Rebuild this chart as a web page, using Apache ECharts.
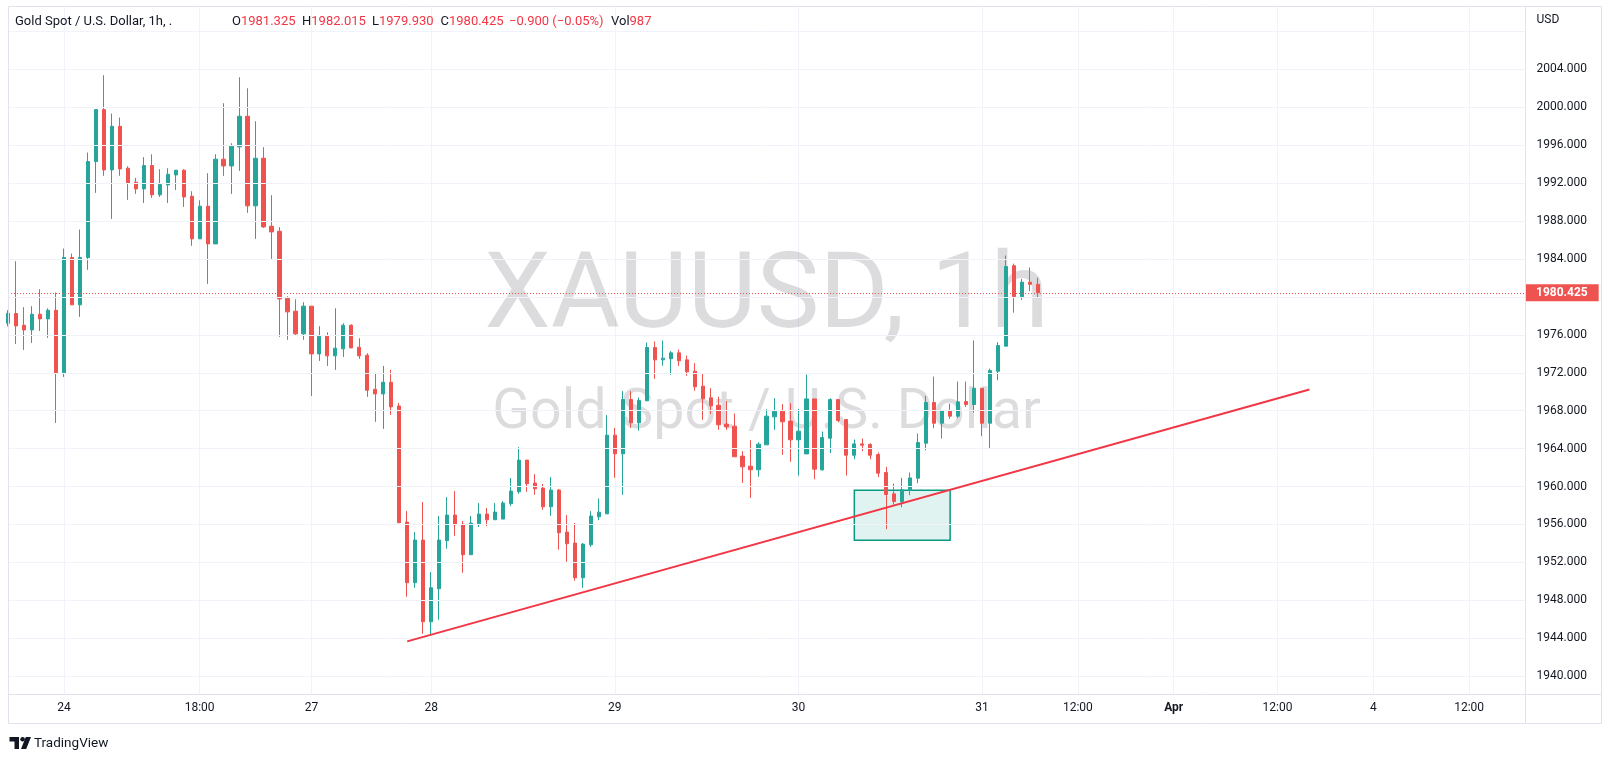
<!DOCTYPE html>
<html><head><meta charset="utf-8">
<script src="https://cdn.jsdelivr.net/npm/echarts@6/dist/echarts.min.js"></script>
<style>html,body{margin:0;padding:0;background:#fff}#c{width:1613px;height:763px}</style>
</head><body><div id="c"></div>
<script>
// ---- data (hourly candles, slot 0 = first, partly hidden candle) ----
const opens = [
1977.22,1978.24,1977.01,1976.52,1978.17,1977.68,1978.59,1971.99,1984.15,1979.16,
1984.15,1994.27,1999.75,1993.39,1997.99,1993.57,1992.09,1991.39,1993.85,1990.76,
1991.81,1992.86,1993.36,1990.61,1986.12,1989.56,1985.59,1994.52,1993.81,1995.82,
1999.05,1989.60,1994.62,1987.45,1986.92,1979.86,1978.49,1976.10,1979.02,1973.99,
1975.85,1973.78,1974.52,1977.01,1974.69,1973.85,1970.26,1969.77,1971.00,1968.49,
1956.25,1949.86,1954.36,1945.74,1949.22,1954.29,1956.99,1956.04,1952.81,1956.08,
1957.10,1956.50,1956.57,1958.19,1959.45,1962.79,1960.37,1959.84,1957.87,1959.63,
1955.20,1954.04,1950.38,1953.86,1956.81,1957.12,1965.42,1963.45,1969.18,1966.72,
1969.04,1974.66,1973.36,1973.47,1974.10,1973.36,1972.17,1970.59,1969.36,1968.58,
1966.58,1966.37,1963.21,1962.15,1961.77,1964.40,1967.35,1967.95,1966.90,1964.93,
1963.44,1969.24,1961.76,1965.10,1969.17,1967.07,1963.30,1964.50,1964.43,1963.37,
1961.48,1959.23,1958.42,1959.58,1960.88,1964.57,1968.86,1966.68,1968.01,1967.42,
1968.96,1968.65,1970.37,1966.68,1972.16,1974.80,1983.29,1980.02,1981.55,1981.325];
const closes = [
1978.27,1976.94,1976.52,1978.17,1977.68,1978.59,1971.99,1984.15,1979.16,1984.15,
1994.27,1999.75,1993.39,1997.99,1993.49,1992.02,1991.39,1993.85,1990.76,1991.85,
1992.93,1993.36,1990.54,1986.12,1989.56,1985.59,1994.52,1993.81,1995.89,1999.05,
1989.60,1994.62,1987.38,1986.85,1979.79,1978.42,1976.10,1979.02,1973.99,1975.85,
1973.78,1974.59,1977.01,1974.62,1973.78,1970.16,1969.77,1971.00,1968.40,1956.18,
1949.86,1954.36,1945.74,1949.33,1954.36,1956.99,1955.97,1952.81,1956.15,1957.10,
1956.50,1957.31,1958.26,1959.52,1962.79,1960.30,1959.77,1957.87,1959.63,1955.13,
1953.97,1950.38,1953.93,1956.89,1957.30,1965.42,1963.45,1969.18,1966.72,1969.08,
1974.66,1973.36,1973.54,1974.10,1973.26,1972.10,1970.52,1969.25,1968.51,1966.51,
1966.30,1963.14,1962.08,1961.77,1964.47,1967.42,1967.95,1966.83,1964.93,1965.84,
1969.24,1961.83,1965.17,1969.17,1966.96,1963.30,1964.50,1964.36,1963.30,1961.41,
1959.16,1958.42,1959.65,1960.91,1964.64,1968.86,1966.68,1968.01,1967.42,1968.93,
1968.65,1970.37,1966.68,1972.23,1974.87,1983.20,1980.02,1981.55,1981.325,1980.425];
const lows = [
1976.90,1975.04,1974.41,1975.15,1976.41,1975.68,1966.71,1971.56,1979.16,1977.89,
1982.85,1990.97,1992.76,1988.22,1992.76,1990.23,1990.86,1989.91,1990.44,1990.54,
1989.91,1991.28,1989.49,1985.38,1986.12,1981.37,1985.59,1992.76,1990.86,1993.29,
1988.86,1986.12,1987.28,1984.01,1975.78,1975.47,1975.99,1975.47,1969.56,1973.25,
1972.72,1972.30,1973.67,1974.62,1973.46,1969.46,1966.82,1966.08,1967.56,1956.18,
1948.38,1949.33,1944.48,1944.27,1945.95,1953.44,1954.81,1950.91,1952.81,1955.73,
1955.83,1956.50,1956.57,1957.96,1959.24,1959.45,1959.14,1957.55,1956.92,1953.34,
1952.07,1950.07,1949.33,1953.65,1956.46,1957.12,1960.92,1959.13,1966.19,1965.88,
1969.04,1971.36,1972.73,1971.78,1972.73,1971.68,1970.10,1967.04,1967.67,1965.98,
1965.98,1963.14,1960.39,1958.81,1961.03,1964.40,1965.98,1963.35,1962.61,1961.16,
1963.44,1960.77,1961.69,1963.52,1966.78,1961.16,1962.88,1963.73,1962.88,1960.98,
1955.50,1958.10,1957.82,1959.09,1960.35,1963.83,1966.15,1965.06,1967.14,1967.21,
1968.40,1967.80,1965.31,1964.04,1971.21,1974.80,1978.33,1979.70,1980.60,1979.93];
const highs = [
1978.60,1983.76,1978.91,1979.02,1980.81,1978.80,1980.46,1985.10,1984.57,1987.10,
1995.22,1999.75,2003.37,1999.33,1998.91,1993.78,1992.55,1994.73,1995.04,1993.46,
1993.57,1993.36,1993.46,1991.14,1990.19,1993.04,1995.04,2000.42,1996.20,2003.16,
2002.00,1998.52,1995.78,1990.72,1987.35,1980.07,1979.75,1979.44,1979.02,1976.91,
1976.27,1978.80,1977.22,1977.12,1975.64,1974.06,1971.99,1972.72,1972.30,1968.81,
1957.41,1955.20,1958.36,1950.98,1956.89,1958.89,1959.52,1956.36,1956.89,1958.26,
1957.73,1958.26,1958.47,1960.89,1964.16,1962.79,1961.31,1960.27,1961.00,1959.74,
1956.99,1956.15,1954.04,1957.41,1958.74,1967.53,1966.19,1970.06,1970.06,1969.39,
1975.19,1975.30,1975.40,1974.28,1974.45,1973.82,1973.01,1971.96,1970.38,1969.46,
1969.00,1967.70,1963.73,1964.89,1964.68,1968.16,1969.32,1968.69,1968.79,1968.19,
1971.81,1969.24,1965.80,1969.31,1969.17,1967.07,1964.96,1965.06,1964.57,1963.59,
1962.07,1960.32,1960.91,1961.48,1965.59,1969.56,1971.60,1968.01,1968.75,1971.07,
1971.07,1975.40,1970.37,1972.44,1975.22,1984.36,1983.51,1981.90,1983.10,1982.015];
const lastVolume = 987;

// time scale: total slots (incl. future space) and labelled slots
const slotCount = 191;
const xLabelSlots = [7, 24, 38, 53, 76, 99, 122, 134, 146, 159, 171, 183];
const xLabelTexts = ['24', '18:00', '27', '28', '29', '30', '31', '12:00', 'Apr', '12:00', '4', '12:00'];

// price scale
const priceTicks = [1940,1944,1948,1952,1956,1960,1964,1968,1972,1976,1980,1984,1988,1992,1996,2000,2004,2008];
const priceMin = 1938.124, priceMax = 2010.675;

// drawings
const trendSlots = [50, 163];
const trendPrices = [1943.67, 1970.23];
const zoneSlots = [106, 118];
const zonePrices = [1959.6, 1954.35];

// texts
const symbolTitle = 'Gold Spot / U.S. Dollar, 1h, .';
const watermarkTitle = 'XAUUSD, 1h';
const watermarkSub = 'Gold Spot / U.S. Dollar';
const currency = 'USD';

// ---- build ----
const UP = '#26a69a', DOWN = '#ef5350', TXT = '#131722', GRID = '#f0f3fa', BORDER = '#e0e3eb';
const FONT = 'Roboto, "Noto Sans", sans-serif';
const plot = {left: 8, right: 1525, top: 6, bottom: 694};
const frame = {left: 8, top: 6, right: 1601, bottom: 723};

const slots = Array.from({length: slotCount}, (_, i) => String(i));
const labelAt = {};
xLabelSlots.forEach((s, i) => { labelAt[s] = xLabelTexts[i]; });
const candles = opens.map((o, i) => [o, closes[i], lows[i], highs[i]]);
const trendData = slots.map(() => null);
trendSlots.forEach((s, i) => { trendData[s] = trendPrices[i]; });

const last = closes.length - 1;
const lastClose = closes[last];
const chg = lastClose - closes[last - 1];
const chgPct = chg / closes[last - 1] * 100;
const fmtSigned = (v, d) => (v < 0 ? '\u2212' : '+') + Math.abs(v).toFixed(d);
const valColor = chg < 0 ? '#f23645' : '#089981';

const header = [
  {x: 15, parts: [[symbolTitle, TXT]]},
  {x: 232, parts: [['O', TXT], [opens[last].toFixed(3), valColor]]},
  {x: 302, parts: [['H', TXT], [highs[last].toFixed(3), valColor]]},
  {x: 372, parts: [['L', TXT], [lows[last].toFixed(3), valColor]]},
  {x: 440.5, parts: [['C', TXT], [lastClose.toFixed(3), valColor]]},
  {x: 509, parts: [[fmtSigned(chg, 3) + ' (' + fmtSigned(chgPct, 2) + '%)', valColor]]},
  {x: 611, parts: [['Vol', TXT], [String(lastVolume), valColor]]}
];
const headerGraphics = header.map(h => {
  const rich = {};
  let text = '';
  h.parts.forEach((p, i) => {
    rich['p' + i] = {fill: p[1], fontSize: 13, fontFamily: FONT};
    text += '{p' + i + '|' + p[0] + '}';
  });
  return {type: 'text', z: 20, silent: true,
    style: {text: text, rich: rich, x: h.x, y: 21.6, verticalAlign: 'middle', align: 'left', fontSize: 13, fontFamily: FONT}};
});

const line = (x1, y1, x2, y2) => ({type: 'line', z: 20, silent: true,
  shape: {x1: x1, y1: y1, x2: x2, y2: y2}, style: {stroke: BORDER, lineWidth: 1}});

const graphics = [
  {type: 'text', z: 1, silent: true, style: {text: watermarkTitle, x: (plot.left + plot.right) / 2, y: 300,
    align: 'center', verticalAlign: 'middle', fontSize: 106, fontFamily: FONT, fill: 'rgba(19,23,34,0.15)'}},
  {type: 'text', z: 1, silent: true, style: {text: watermarkSub, x: (plot.left + plot.right) / 2, y: 414,
    align: 'center', verticalAlign: 'middle', fontSize: 55.5, fontFamily: FONT, fill: 'rgba(19,23,34,0.15)'}},
  {type: 'rect', z: 20, silent: true, shape: {x: frame.left + 0.5, y: frame.top + 0.5,
    width: frame.right - frame.left, height: frame.bottom - frame.top}, style: {fill: null, stroke: BORDER, lineWidth: 1}},
  line(plot.right + 0.5, frame.top, plot.right + 0.5, frame.bottom),
  line(frame.left, plot.bottom + 0.5, frame.right, plot.bottom + 0.5),
  {type: 'text', z: 20, silent: true, style: {text: currency, x: 1536.5, y: 20, verticalAlign: 'middle',
    fontSize: 12, fontFamily: FONT, fill: TXT}},
  // TradingView mark
  {type: 'rect', z: 20, silent: true, shape: {x: 9.5, y: 737, width: 9.5, height: 4.5}, style: {fill: TXT}},
  {type: 'rect', z: 20, silent: true, shape: {x: 14.5, y: 737, width: 4.5, height: 12}, style: {fill: TXT}},
  {type: 'circle', z: 20, silent: true, shape: {cx: 22.6, cy: 739.3, r: 2.3}, style: {fill: TXT}},
  {type: 'polygon', z: 20, silent: true, shape: {points: [[25.8, 737], [31, 737], [26.2, 749], [21, 749]]}, style: {fill: TXT}},
  {type: 'text', z: 20, silent: true, style: {text: 'TradingView', x: 34, y: 743.5, verticalAlign: 'middle',
    fontSize: 13.5, fontFamily: FONT, fill: TXT}}
].concat(headerGraphics);

const option = {
  animation: false,
  backgroundColor: '#ffffff',
  textStyle: {fontFamily: FONT},
  grid: {left: plot.left, top: plot.top, width: plot.right - plot.left, height: plot.bottom - plot.top},
  xAxis: {
    type: 'category', data: slots, boundaryGap: false,
    axisLine: {show: false}, axisTick: {show: false},
    axisLabel: {
      interval: (i) => labelAt[i] !== undefined,
      formatter: (v) => { const t = labelAt[Number(v)] || ''; return /^[A-Za-z]/.test(t) ? '{m|' + t + '}' : t; },
      margin: 8, color: TXT, fontSize: 12, fontFamily: FONT,
      rich: {m: {fontWeight: 'bold', fontSize: 12, color: TXT, fontFamily: FONT}}
    },
    splitLine: {show: true, interval: (i) => labelAt[i] !== undefined, lineStyle: {color: GRID, width: 1}}
  },
  yAxis: {type: 'value', min: priceMin, max: priceMax, show: false},
  graphic: graphics,
  series: [
    {
      name: 'grid', type: 'line', data: slots.map(() => null), silent: true, z: 1,
      markLine: {
        silent: true, symbol: ['none', 'none'], precision: 3, animation: false,
        lineStyle: {color: GRID, width: 1, type: 'solid'},
        label: {show: true, position: 'end', distance: 11.5, color: TXT, fontSize: 12, fontFamily: FONT,
          formatter: (p) => Number(p.value).toFixed(3)},
        emphasis: {disabled: true},
        data: priceTicks.map(v => ({yAxis: v,
          label: {show: v < priceMax - 3 && Math.abs(v - lastClose) > 1.5}}))
      }
    },
    {
      name: 'XAUUSD', type: 'candlestick', data: candles, z: 3, barWidth: 3.7,
      itemStyle: {color: UP, color0: DOWN, borderColor: UP, borderColor0: DOWN, borderWidth: 1},
      markLine: {
        silent: true, symbol: ['none', 'none'], precision: 3, animation: false,
        lineStyle: {color: DOWN, width: 1, type: [1, 2]},
        label: {show: true, position: 'end', distance: 0, color: '#ffffff', fontSize: 12, fontWeight: 'bold',
          fontFamily: FONT, backgroundColor: DOWN, padding: [3, 11, 2, 11], formatter: (p) => Number(p.value).toFixed(3)},
        emphasis: {disabled: true},
        data: [{yAxis: lastClose}]
      },
      markArea: {
        silent: true,
        itemStyle: {color: 'rgba(8,153,129,0.12)', borderColor: '#089981', borderWidth: 1.5},
        data: [[{coord: [zoneSlots[0], zonePrices[0]]}, {coord: [zoneSlots[1], zonePrices[1]]}]]
      }
    },
    {
      name: 'trend', type: 'line', data: trendData, connectNulls: true, showSymbol: false, symbol: 'none',
      silent: true, z: 5, lineStyle: {color: '#f23645', width: 2}
    }
  ]
};
const chart = echarts.init(document.getElementById('c'));
chart.setOption(option);
</script></body></html>
